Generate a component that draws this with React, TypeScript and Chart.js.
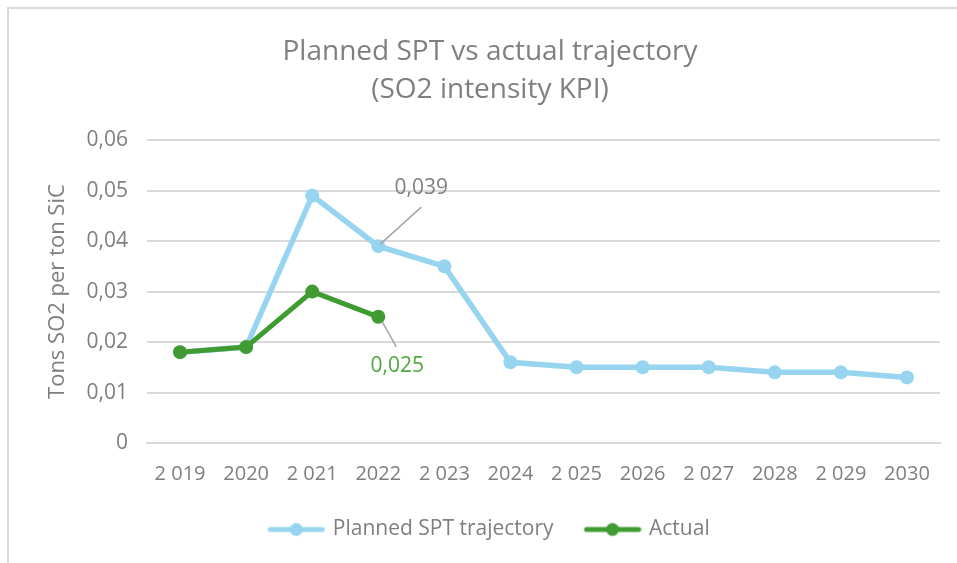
import React, { useEffect, useRef } from "react";
import { Chart, registerables } from "chart.js";

Chart.register(...registerables);

const categories = ["2 019", "2020", "2 021", "2022", "2 023", "2024", "2 025", "2026", "2 027", "2028", "2 029", "2030"];
const plannedValues = [0.018, 0.019, 0.049, 0.039, 0.035, 0.016, 0.015, 0.015, 0.015, 0.014, 0.014, 0.013];
const actualValues = [0.018, 0.019, 0.03, 0.025, null, null, null, null, null, null, null, null];
const seriesNames = ["Planned SPT trajectory", "Actual"];
const titleLines = ["Planned SPT vs actual trajectory", "(SO2 intensity KPI)"];
const yAxisTitle = "Tons SO2 per ton SiC";
const dataLabels = [
  { dataset: 0, index: 3, text: "0,039" },
  { dataset: 1, index: 3, text: "0,025" },
];

const FONT = '"Open Sans", Lato, sans-serif';
const BLUE = "#97d4ef";
const GREEN = "#409b32";
const GREY = "#7f7f7f";

function legendSample(color: string) {
  const c = document.createElement("canvas");
  c.width = 58;
  c.height = 16;
  const ctx = c.getContext("2d")!;
  ctx.strokeStyle = color;
  ctx.lineWidth = 5;
  ctx.lineCap = "round";
  ctx.beginPath();
  ctx.moveTo(3, 8);
  ctx.lineTo(55, 8);
  ctx.stroke();
  ctx.fillStyle = color;
  ctx.beginPath();
  ctx.arc(29, 8, 6.5, 0, Math.PI * 2);
  ctx.fill();
  return c;
}

const framePlugin = {
  id: "frame",
  beforeDraw(chart: any) {
    const ctx = chart.ctx;
    ctx.save();
    ctx.fillStyle = "#ffffff";
    ctx.fillRect(0, 0, chart.width, chart.height);
    ctx.strokeStyle = "#d9d9d9";
    ctx.lineWidth = 2;
    ctx.beginPath();
    ctx.moveTo(8, chart.height);
    ctx.lineTo(8, 8);
    ctx.lineTo(chart.width, 8);
    ctx.stroke();
    ctx.restore();
  },
};

const labelPlugin = {
  id: "pointLabels",
  afterDatasetsDraw(chart: any) {
    const ctx = chart.ctx;
    ctx.save();
    dataLabels.forEach((l) => {
      const el = chart.getDatasetMeta(l.dataset).data[l.index];
      if (!el) return;
      const x = el.x;
      const y = el.y;
      ctx.strokeStyle = "#a6a6a6";
      ctx.lineWidth = 1.5;
      ctx.beginPath();
      if (l.dataset === 0) {
        ctx.moveTo(x + 2, y - 2);
        ctx.lineTo(x + 43, y - 39);
      } else {
        ctx.moveTo(x + 4, y + 5);
        ctx.lineTo(x + 18, y + 30);
      }
      ctx.stroke();
      ctx.font = `21px ${FONT}`;
      ctx.textAlign = "center";
      ctx.textBaseline = "middle";
      ctx.fillStyle = l.dataset === 0 ? GREY : "#4ea83f";
      if (l.dataset === 0) ctx.fillText(l.text, x + 43, y - 58);
      else ctx.fillText(l.text, x + 19, y + 49);
    });
    ctx.restore();
  },
};

export default function App() {
  const ref = useRef<HTMLCanvasElement>(null);
  useEffect(() => {
    const samples = [legendSample(BLUE), legendSample(GREEN)];
    const chart = new Chart(ref.current!, {
      type: "line",
      data: {
        labels: categories,
        datasets: [
          {
            label: seriesNames[0],
            data: plannedValues,
            borderColor: BLUE,
            backgroundColor: BLUE,
            borderWidth: 5.5,
            pointRadius: 7,
            pointBorderWidth: 0,
            pointBackgroundColor: BLUE,
            tension: 0,
            order: 2,
          },
          {
            label: seriesNames[1],
            data: actualValues,
            borderColor: GREEN,
            backgroundColor: GREEN,
            borderWidth: 5,
            pointRadius: 7,
            pointBorderWidth: 0,
            pointBackgroundColor: GREEN,
            tension: 0,
            order: 1,
          },
        ],
      },
      options: {
        responsive: false,
        animation: false,
        layout: { padding: { top: 24, right: 17, left: 40, bottom: 13 } },
        plugins: {
          tooltip: { enabled: false },
          title: {
            display: true,
            text: titleLines,
            color: GREY,
            font: { family: FONT, size: 28, weight: "normal", lineHeight: 1.36 },
            padding: { top: 9, bottom: 31 },
          },
          legend: {
            position: "bottom",
            labels: {
              usePointStyle: true,
              pointStyleWidth: 52,
              padding: 33,
              color: GREY,
              font: { family: FONT, size: 21 },
              sort: (a: any, b: any) => a.datasetIndex - b.datasetIndex,
              generateLabels: (chart: any) =>
                chart.data.datasets.map((d: any, i: number) => ({
                  text: d.label,
                  datasetIndex: i,
                  fillStyle: d.borderColor,
                  strokeStyle: d.borderColor,
                  lineWidth: 0,
                  pointStyle: samples[i],
                  fontColor: GREY,
                  hidden: false,
                })),
            },
          },
        },
        scales: {
          x: {
            offset: true,
            afterFit: (s: any) => {
              s.height = 43;
            },
            grid: { display: false, drawTicks: false, offset: true },
            border: { display: true, color: "#d9d9d9", width: 2 },
            ticks: { color: GREY, font: { family: FONT, size: 20 }, padding: 19, maxRotation: 0, autoSkip: false },
          },
          y: {
            min: 0,
            max: 0.06,
            afterFit: (s: any) => {
              s.width = 107;
            },
            ticks: {
              stepSize: 0.01,
              color: GREY,
              font: { family: FONT, size: 21 },
              padding: 19,
              callback: (v: any) => (v === 0 ? "0" : Number(v).toFixed(2).replace(".", ",")),
            },
            grid: { color: "#d9d9d9", lineWidth: 2, drawTicks: false },
            border: { display: false },
            title: {
              display: true,
              text: yAxisTitle,
              color: GREY,
              font: { family: FONT, size: 22 },
              padding: { top: 5, bottom: 0 },
            },
          },
        },
      },
      plugins: [framePlugin, labelPlugin],
    } as any);
    return () => chart.destroy();
  }, []);
  return (
    <div style={{ position: "fixed", left: 0, top: 0, width: 957, height: 563 }}>
      <canvas ref={ref} width={957} height={563} />
    </div>
  );
}
